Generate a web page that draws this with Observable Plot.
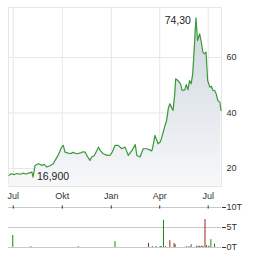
<!DOCTYPE html>
<html><head><meta charset="utf-8">
<script src="https://cdn.jsdelivr.net/npm/d3@7"></script>
<script src="https://cdn.jsdelivr.net/npm/@observablehq/plot@0.6"></script>
<style>
html,body{margin:0;padding:0;background:#fff;}
#c svg{display:block;}
</style></head>
<body><div id="c"></div>
<script>
const priceDates = ["2023-06-23","2023-06-27","2023-07-03","2023-07-08","2023-07-14","2023-07-19","2023-07-25","2023-07-31","2023-08-05","2023-08-07","2023-08-11","2023-08-17","2023-08-24","2023-08-28","2023-09-02","2023-09-08","2023-09-14","2023-09-23","2023-09-30","2023-10-03","2023-10-06","2023-10-16","2023-10-21","2023-10-28","2023-11-03","2023-11-09","2023-11-13","2023-11-16","2023-11-22","2023-11-25","2023-11-30","2023-12-05","2023-12-08","2023-12-11","2023-12-17","2023-12-24","2023-12-30","2024-01-03","2024-01-08","2024-01-14","2024-01-21","2024-01-27","2024-02-02","2024-02-09","2024-02-15","2024-02-18","2024-02-24","2024-03-01","2024-03-08","2024-03-14","2024-03-17","2024-03-19","2024-03-23","2024-03-29","2024-04-02","2024-04-05","2024-04-11","2024-04-14","2024-04-17","2024-04-20","2024-04-23","2024-04-26","2024-04-29","2024-05-01","2024-05-05","2024-05-10","2024-05-13","2024-05-18","2024-05-21","2024-05-24","2024-05-27","2024-05-30","2024-06-02","2024-06-05","2024-06-08","2024-06-11","2024-06-15","2024-06-18","2024-06-21","2024-06-24","2024-06-27","2024-06-30","2024-07-04","2024-07-07","2024-07-10","2024-07-13","2024-07-16","2024-07-19","2024-07-23","2024-07-25"];
const priceValues = [17.5,18.1,17.8,18.2,17.9,18.3,18.0,18.4,18.7,16.9,21.1,21.7,21.1,21.5,20.5,21.0,21.7,24.7,27.7,28.3,25.9,25.3,25.8,25.3,25.5,26.0,25.9,24.7,22.9,24.1,24.6,26.5,27.7,26.5,25.3,24.7,24.8,26.0,28.3,28.3,27.1,27.7,24.7,26.5,28.6,24.7,24.1,27.1,27.1,26.6,26.3,27.7,31.9,28.9,29.5,31.3,35.5,37.3,41.5,43.3,42.1,40.9,46.3,52.3,51.7,50.5,48.1,48.3,50.2,48.3,51.7,50.5,54.1,63.7,74.3,66.1,68.5,65.6,61.9,61.3,61.9,51.7,49.3,49.6,48.1,48.1,46.9,44.5,43.9,40.9];

const volDates = ["2023-06-30","2023-08-03","2023-10-31","2024-01-08","2024-03-11","2024-03-18","2024-03-25","2024-04-02","2024-04-04","2024-04-08","2024-04-12","2024-04-20","2024-04-28","2024-04-30","2024-05-21","2024-05-26","2024-05-30","2024-06-09","2024-06-12","2024-06-15","2024-06-18","2024-06-21","2024-06-25","2024-06-28","2024-07-02","2024-07-06","2024-07-13"];
const volValues = [3.0,0.2,0.2,1.45,1.0,0.25,0.25,0.25,0.2,6.8,0.2,1.7,1.0,0.7,0.2,0.2,0.7,0.3,0.3,0.3,0.3,0.3,7.0,0.5,0.3,1.95,0.85];
const volUp = [1,1,1,1,0,1,1,1,1,1,0,0,0,1,0,0,1,1,1,0,0,0,0,1,0,1,1];

const monthTicks = ["2023-07-01","2023-10-01","2024-01-01","2024-04-01","2024-07-01"];
const monthLabels = ["Jul","Okt","Jan","Apr","Jul"];
const priceTicks = [20,40,60];
const volTicks = [0,5,10];
const xDomainStr = ["2023-06-22","2024-07-26"];
const yDomain = [13.5,78];

const price = priceDates.map((d,i)=>({date:new Date(d), value:priceValues[i]}));
const vol = volDates.map((d,i)=>({date:new Date(d), value:volValues[i], up:volUp[i]}));
const mt = monthTicks.map(d=>new Date(d));
const xDomain = xDomainStr.map(d=>new Date(d));
const fmtMonth = d => monthLabels[mt.findIndex(m=>+m===+d)];
const maxI = d3.maxIndex(price, d=>d.value);
const minI = d3.minIndex(price, d=>d.value);
const fmtNum = (v,dec) => v.toFixed(dec).replace(".", ",");

const grad = () => {
  const defs = d3.create("svg:defs");
  const g = defs.append("linearGradient").attr("id","pgrad").attr("x1",0).attr("x2",0).attr("y1",0).attr("y2",1);
  g.append("stop").attr("offset","0%").attr("stop-color","#cdd6de");
  g.append("stop").attr("offset","100%").attr("stop-color","#f7f8fa");
  return defs.node();
};

const font = {fontFamily:"'Liberation Sans', Arial, sans-serif", fontSize:"9px", color:"#333", background:"#fff", overflow:"visible"};

const main = Plot.plot({
  width:264, height:202,
  marginLeft:8, marginRight:43, marginTop:7, marginBottom:16,
  style:font,
  x:{type:"time", domain:xDomain},
  y:{domain:yDomain},
  marks:[
    grad,
    Plot.gridX(mt,{stroke:"#e6e6e6", strokeOpacity:1}),
    Plot.gridY(priceTicks,{stroke:"#e6e6e6", strokeOpacity:1}),
    Plot.frame({stroke:"#e6e6e6"}),
    Plot.areaY(price,{x:"date", y1:yDomain[0], y2:"value", fill:"url(#pgrad)"}),
    Plot.lineY(price,{x:"date", y:"value", stroke:"#3a9a3a", strokeWidth:1.2}),
    Plot.axisX(mt,{anchor:"bottom", tickSize:0, tickPadding:6, tickFormat:fmtMonth, label:null, fill:"#333"}),
    Plot.axisY(priceTicks,{anchor:"right", tickSize:0, tickPadding:5, label:null, fill:"#333"}),
    Plot.text([price[maxI]],{x:"date", y:"value", text:d=>fmtNum(d.value,2), textAnchor:"end", dx:-5, dy:3, fontSize:10.5, fill:"#222"}),
    Plot.text([price[minI]],{x:"date", y:"value", text:d=>fmtNum(d.value,3), textAnchor:"start", dx:4, dy:0, fontSize:10.5, fill:"#222"})
  ]
});

const volume = Plot.plot({
  width:264, height:53,
  marginLeft:8, marginRight:43, marginTop:5, marginBottom:8,
  style:font,
  x:{type:"time", domain:xDomain, axis:null},
  y:{domain:[0,10]},
  marks:[
    Plot.gridY(volTicks,{stroke:"#c8c8c8", strokeOpacity:1}),
    Plot.ruleX(mt,{y1:9.6, y2:10.4, stroke:"#333"}),
    Plot.ruleX(vol,{x:"date", y1:0, y2:"value", stroke:d=>d.up?"#118811":"#aa1f1f", strokeWidth:1}),
    Plot.axisY(volTicks,{anchor:"right", tickSize:4, tickPadding:1, tickFormat:d=>d+"T", label:null, fill:"#333", stroke:"#333"})
  ]
});

const c = document.getElementById("c");
c.append(main);
c.append(volume);
</script></body></html>
